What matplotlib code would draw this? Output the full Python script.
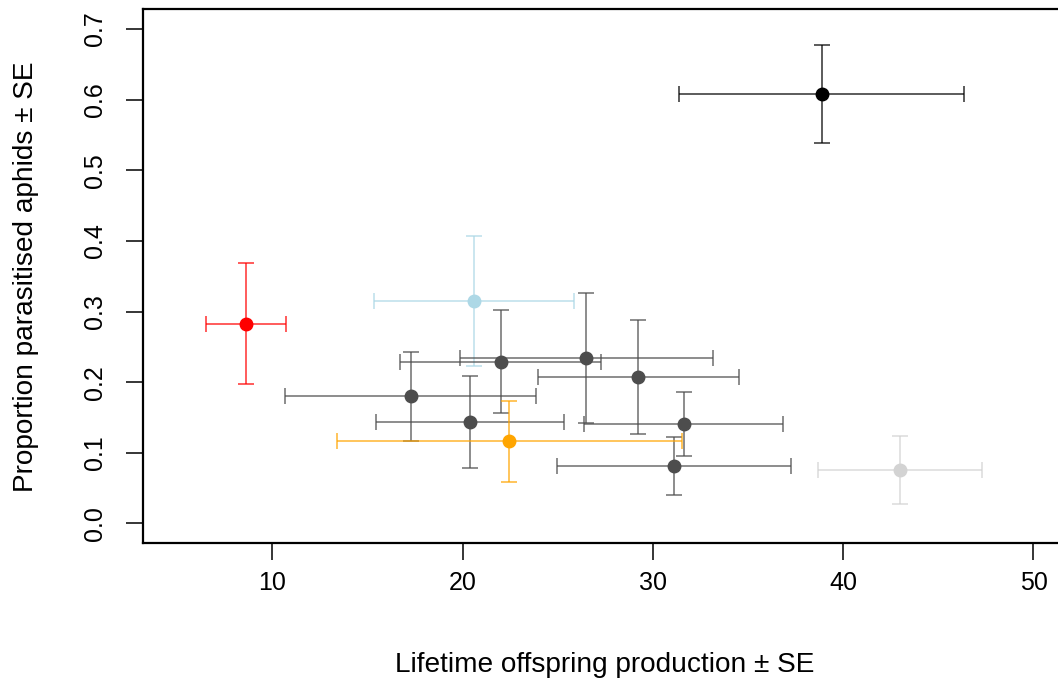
import matplotlib.pyplot as plt
import numpy as np

# values
offspring = [38.86, 8.62, 20.61, 17.26, 22.0, 26.49, 29.23, 20.37, 31.63, 31.11, 22.46, 42.99]
offspring_se = [7.47, 2.09, 5.26, 6.60, 5.28, 6.65, 5.29, 4.95, 5.23, 6.17, 9.09, 4.31]
parasitised = [0.608, 0.283, 0.315, 0.180, 0.229, 0.234, 0.207, 0.144, 0.141, 0.081, 0.116, 0.076]
parasitised_se = [0.070, 0.086, 0.092, 0.063, 0.073, 0.092, 0.081, 0.065, 0.045, 0.041, 0.057, 0.048]
colours = ['black', 'red', 'lightblue', '#4d4d4d', '#4d4d4d', '#4d4d4d', '#4d4d4d',
           '#4d4d4d', '#4d4d4d', '#4d4d4d', 'orange', 'lightgrey']
xticks = [10, 20, 30, 40, 50]
yticks = [0.0, 0.1, 0.2, 0.3, 0.4, 0.5, 0.6, 0.7]

plt.rcParams['font.family'] = ['Liberation Sans', 'DejaVu Sans']

fig = plt.figure(figsize=(10.58, 6.82), dpi=100)
ax = fig.add_axes([0.1352, 0.2035, 0.874, 0.7830])

for i in range(len(offspring)):
    ax.errorbar(offspring[i], parasitised[i], xerr=offspring_se[i], yerr=parasitised_se[i],
                fmt='none', ecolor=colours[i], elinewidth=1.2, capsize=6, capthick=1.2,
                alpha=0.75, zorder=2)
    ax.plot(offspring[i], parasitised[i], 'o', color=colours[i], markersize=9, zorder=3)

# R style limits (4% padding)
ax.set_xlim(5 - 0.04 * 45, 50 + 0.04 * 45)
ax.set_ylim(-0.04 * 0.7, 0.7 + 0.04 * 0.7)
ax.set_xticks(xticks)
ax.set_xticklabels([str(t) for t in xticks])
ax.set_yticks(yticks)
ax.set_yticklabels(['%.1f' % t for t in yticks], rotation=90, va='center')

ax.tick_params(axis='both', length=12, width=1.1, labelsize=18, direction='out')
ax.tick_params(axis='x', pad=8)
ax.tick_params(axis='y', pad=14)
for s in ax.spines.values():
    s.set_linewidth(1.6)

fig.text(0.572, 1 - 665 / 682, 'Lifetime offspring production ± SE', ha='center', va='center', fontsize=20.2)
fig.text(26 / 1058, 0.5946, 'Proportion parasitised aphids ± SE', ha='center', va='center',
         rotation=90, fontsize=20.2)

fig.savefig('out.png', dpi=100)
